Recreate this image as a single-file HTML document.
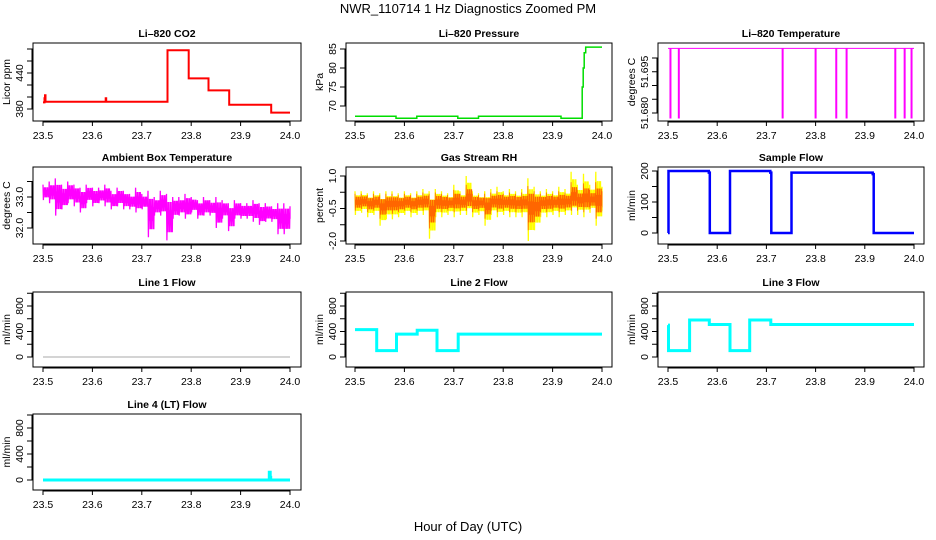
<!DOCTYPE html>
<html><head><meta charset="utf-8"><style>
body{margin:0;background:#fff}
svg{display:block;font-family:"Liberation Sans",sans-serif}
</style></head><body>
<svg id="c" width="936" height="540" viewBox="0 0 936 540">
<text x="468" y="13" font-size="13" text-anchor="middle">NWR_110714  1 Hz Diagnostics Zoomed PM</text>
<text x="468" y="531" font-size="13" text-anchor="middle">Hour of Day (UTC)</text>
</svg>
<script>
// ---- data ----
const xTicks = [23.5, 23.6, 23.7, 23.8, 23.9, 24.0];
const xTickLabels = ["23.5", "23.6", "23.7", "23.8", "23.9", "24.0"];
const co2X = [23.5, 23.503, 23.504, 23.505, 23.506, 23.626, 23.627, 23.628, 23.752, 23.795, 23.835, 23.877, 23.962, 24.0];
const co2Y = [391, 398, 403, 392, 392, 392, 398, 392, 478, 431, 411, 387, 374, 374];
const presX = [23.5, 23.583, 23.625, 23.708, 23.75, 23.917, 23.958, 23.960, 23.962, 23.964, 23.967, 24.0];
const presY = [67.3, 66.8, 67.3, 66.8, 67.3, 66.8, 66.8, 75, 80, 84, 85.5, 85.5];
const tempBase = 51.7035;
const tempDipX = [23.505, 23.522, 23.733, 23.80, 23.842, 23.863, 23.962, 23.981, 23.995];
const tempDipY = [51.678, 51.678, 51.678, 51.678, 51.678, 51.678, 51.678, 51.678, 51.678];
const ambX  = [23.5,23.5125,23.525,23.5375,23.55,23.5625,23.575,23.5875,23.6,23.6125,23.625,23.6375,23.65,23.6625,23.675,23.6875,23.7,23.7125,23.725,23.7375,23.75,23.7625,23.775,23.7875,23.8,23.8125,23.825,23.8375,23.85,23.8625,23.875,23.8875,23.9,23.9125,23.925,23.9375,23.95,23.9625,23.975,23.9875,24.0];
const ambHi = [33.4,33.5,33.6,33.4,33.5,33.4,33.3,33.4,33.3,33.3,33.4,33.2,33.3,33.2,33.1,33.3,33.1,33.2,33.0,33.2,33.1,33.0,33.0,33.1,33.0,32.9,33.0,32.9,33.0,32.9,32.8,32.9,32.8,32.8,32.9,32.8,32.8,32.7,32.8,32.8,32.7];
const ambLo = [32.9,32.8,32.4,32.6,32.8,32.7,32.5,32.8,32.7,32.8,32.7,32.6,32.7,32.6,32.6,32.5,32.6,31.7,32.4,32.4,31.6,32.3,32.4,32.3,32.5,32.3,32.4,32.4,32.0,32.3,31.9,32.3,32.3,32.3,32.2,32.1,32.2,32.2,31.8,31.8,32.3];
const rhX  = [23.5,23.5125,23.525,23.5375,23.55,23.5625,23.575,23.5875,23.6,23.6125,23.625,23.6375,23.65,23.6625,23.675,23.6875,23.7,23.7125,23.725,23.7375,23.75,23.7625,23.775,23.7875,23.8,23.8125,23.825,23.8375,23.85,23.8625,23.875,23.8875,23.9,23.9125,23.925,23.9375,23.95,23.9625,23.975,23.9875,24.0];
const rhHi = [0.3,0.3,0.2,0.3,0.2,0.3,0.3,0.2,0.3,0.2,0.3,0.4,0.3,0.4,0.3,0.2,0.6,0.3,1.0,0.3,0.2,0.3,0.4,0.5,0.3,0.4,0.3,0.4,0.9,0.5,0.3,0.4,0.3,0.5,0.4,1.2,0.6,1.1,0.6,1.2,0.5];
const rhLo = [-0.8,-0.7,-0.9,-0.8,-1.3,-1.0,-1.0,-0.9,-0.8,-0.9,-0.8,-0.8,-1.9,-0.9,-0.9,-0.8,-0.9,-0.8,-0.8,-0.9,-0.8,-1.3,-0.8,-0.9,-0.8,-0.9,-0.9,-0.9,-2.0,-1.5,-0.9,-0.9,-0.8,-0.9,-0.8,-0.8,-0.8,-0.9,-0.7,-1.3,-0.6];
const sfX = [23.5, 23.501, 23.583, 23.585, 23.624, 23.626, 23.708, 23.710, 23.749, 23.751, 23.916, 23.918, 24.0];
const sfY = [0, 200, 195, 0, 0, 200, 195, 0, 0, 195, 190, 0, 0];
const l1X = [23.5, 24.0];
const l1Y = [0, 0];
const l2X = [23.5, 23.543, 23.544, 23.583, 23.584, 23.625, 23.626, 23.665, 23.666, 23.708, 23.709, 24.0];
const l2Y = [430, 430, 100, 100, 360, 360, 420, 420, 100, 100, 360, 360];
const l3X = [23.5, 23.501, 23.543, 23.544, 23.583, 23.584, 23.625, 23.626, 23.665, 23.666, 23.708, 23.709, 24.0];
const l3Y = [500, 100, 100, 580, 580, 510, 510, 100, 100, 580, 580, 510, 510];
const l4X = [23.5, 23.957, 23.958, 23.960, 23.961, 24.0];
const l4Y = [0, 0, 120, 40, 0, 0];

// ---- layout ----
const NS = "http://www.w3.org/2000/svg";
const svg = document.getElementById('c');
const cols = [{b0:33,b1:301,d0:43,d1:290},{b0:346,b1:612,d0:355,d1:602},{b0:658,b1:924,d0:668,d1:914}];
const rows = [[43,121],[167,244],[292,367],[414,490]];
function el(tag, attrs, parent){const e=document.createElementNS(NS,tag);for(const k in attrs)e.setAttribute(k,attrs[k]);(parent||svg).appendChild(e);return e;}

function panel(name, title, ci, ri, yref, yTicks, yLabels, ylab){
  const c=cols[ci], r=rows[ri];
  const g=el('g',{});
  
  
  const xs=v=>c.d0+(v-23.5)/0.5*(c.d1-c.d0);
  const ys=v=>yref[1]+(v-yref[0])/(yref[2]-yref[0])*(yref[3]-yref[1]);
  const box=el('rect',{x:c.b0,y:r[0],width:c.b1-c.b0,height:r[1]-r[0],fill:'none',stroke:'#000','stroke-width':1},g);
  
  
  const t=el('text',{x:(c.b0+c.b1)/2,y:r[0]-6,'font-size':10.5,'font-weight':'bold','text-anchor':'middle'},g);
  t.textContent=title;
  
  
  el('line',{x1:xs(xTicks[0]),x2:xs(xTicks[xTicks.length-1]),y1:r[1]+1,y2:r[1]+1,stroke:'#000'},g);
  xTicks.forEach((v,i)=>{
    el('line',{x1:xs(v),x2:xs(v),y1:r[1],y2:r[1]+5,stroke:'#000'},g);
    const tl=el('text',{x:xs(v),y:r[1]+18,'font-size':10.5,'text-anchor':'middle'},g);
    tl.textContent=xTickLabels[i];
    
    
  });
  el('line',{x1:c.b0-1,x2:c.b0-1,y1:ys(yTicks[0]),y2:ys(yTicks[yTicks.length-1]),stroke:'#000'},g);
  yTicks.forEach((v,i)=>{
    el('line',{x1:c.b0-6,x2:c.b0,y1:ys(v),y2:ys(v),stroke:'#000'},g);
    if(yLabels[i]){
      const yl=el('text',{x:0,y:0,'font-size':10.5,'text-anchor':'middle',transform:`translate(${c.b0-10},${ys(v)}) rotate(-90)`},g);
      yl.textContent=yLabels[i];
      
      
    }
  });
  const at=el('text',{x:0,y:0,'font-size':10.5,'text-anchor':'middle',transform:`translate(${c.b0-23},${(r[0]+r[1])/2}) rotate(-90)`},g);
  at.textContent=ylab;
  
  
  return {g,xs,ys};
}
function stepLine(p, X, Y, color, w, name){
  let d='';
  X.forEach((x,i)=>{d+=(i?'L':'M')+p.xs(x).toFixed(1)+' '+p.ys(Y[i]).toFixed(1)+' ';
    if(i<X.length-1) d+='L'+p.xs(X[i+1]).toFixed(1)+' '+p.ys(Y[i]).toFixed(1)+' ';});
  const e=el('path',{d,fill:'none',stroke:color,'stroke-width':w},p.g);
  
  
}
function band(p, X, H, L, color, w, name, n){
  let d='';
  for(let i=0;i<X.length;i++){
    const x0=p.xs(X[i]), x1=i<X.length-1?p.xs(X[i+1]):x0;
    const dx=(x1-x0)/n;
    const midH=(H[i]*0.3+((H[i]+L[i])/2)*0.7), midL=(L[i]*0.3+((H[i]+L[i])/2)*0.7);
    for(let k=0;k<(i<X.length-1?n:1);k++){
      const xx=x0+dx*k;
      const hi = k===0?H[i]:(k%3===1?midH:(H[i]+midH)/2);
      const lo = k===0?L[i]:(k%3===2?midL:(L[i]+midL)/2);
      d+=(d?'L':'M')+xx.toFixed(1)+' '+p.ys(hi).toFixed(1)+' ';
      d+='L'+(xx+dx/2).toFixed(1)+' '+p.ys(lo).toFixed(1)+' ';
    }
  }
  const e=el('path',{d,fill:'none',stroke:color,'stroke-width':w},p.g);
  
  
}

let p=panel('co2','Li\u2013820 CO2',0,0,[380,109,440,73],[380,400,420,440,460,480],['380','','','440','',''],'Licor ppm');
stepLine(p,co2X,co2Y,'#f00',2,'co2-line');
p=panel('pressure','Li\u2013820 Pressure',1,0,[70,106,85,49],[70,75,80,85],['70','75','80','85'],'kPa');
stepLine(p,presX,presY,'#0d0',1.5,'pressure-line');
p=panel('li820-temp','Li\u2013820 Temperature',2,0,[51.68,113,51.70,58],[51.68,51.685,51.69,51.695,51.70],['51.680','','','51.695',''],'degrees C');
{const bl=el('line',{x1:p.xs(23.5),x2:p.xs(24.0),y1:p.ys(tempBase),y2:p.ys(tempBase),stroke:'#f0f','stroke-width':1},p.g);


tempDipX.forEach((x,i)=>{const s=el('line',{x1:p.xs(x),x2:p.xs(x),y1:p.ys(tempBase),y2:p.ys(tempDipY[i]),stroke:'#f0f','stroke-width':2},p.g);

});}
p=panel('ambient-temp','Ambient Box Temperature',0,1,[32,228,33,197],[32,32.5,33,33.5],['32.0','','33.0',''],'degrees C');
band(p,ambX,ambHi,ambLo,'#f0f',1.3,'ambient-temp-line',8);
p=panel('gas-rh','Gas Stream RH',1,1,[1.0,176,-2.0,241],[1.0,0.25,-0.5,-1.25,-2.0],['1.0','','-0.5','','-2.0'],'percent');
band(p,rhX,rhHi,rhLo,'#ff0',1.3,'rh-band',8);
band(p,rhX,rhHi.map(v=>v*0.6),rhLo.map(v=>v*0.75),'#f60',0.8,'rh-line',10);
p=panel('sample-flow','Sample Flow',2,1,[0,233,200,171],[0,50,100,150,200],['0','','100','','200'],'ml/min');
stepLine(p,sfX,sfY,'#00f',2.5,'sample-flow-line');
p=panel('line1-flow','Line 1 Flow',0,2,[0,357,800,306],[0,200,400,600,800,1000],['0','','400','','800',''],'ml/min');
stepLine(p,l1X,l1Y,'#aaa',1,'line1-flow-line');
p=panel('line2-flow','Line 2 Flow',1,2,[0,357,800,306],[0,200,400,600,800,1000],['0','','400','','800',''],'ml/min');
stepLine(p,l2X,l2Y,'#0ff',3,'line2-flow-line');
p=panel('line3-flow','Line 3 Flow',2,2,[0,357,800,306],[0,200,400,600,800,1000],['0','','400','','800',''],'ml/min');
stepLine(p,l3X,l3Y,'#0ff',3,'line3-flow-line');
p=panel('line4-flow','Line 4 (LT) Flow',0,3,[0,480,800,428],[0,200,400,600,800,1000],['0','','400','','800',''],'ml/min');
stepLine(p,l4X,l4Y,'#0ff',3,'line4-flow-line');
</script>
</body></html>
